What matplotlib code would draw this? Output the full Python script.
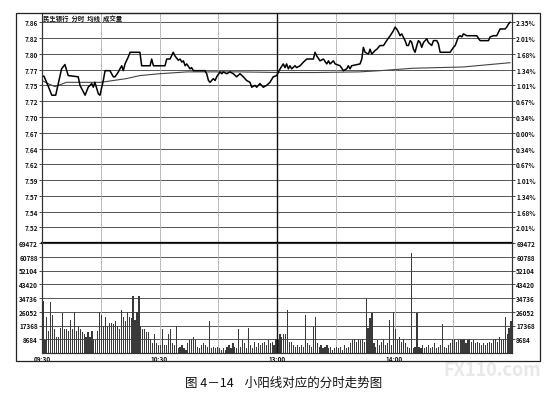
import matplotlib
matplotlib.use("Agg")
import matplotlib.pyplot as plt
from matplotlib.patches import Rectangle
import numpy as np

plt.rcParams['font.family'] = ['Noto Sans CJK SC', 'DejaVu Sans']

# ---- data ----
prev_close = 7.675
price_labels = ['7.86', '7.82', '7.80', '7.77', '7.75', '7.72', '7.70',
                '7.67', '7.64', '7.62', '7.59', '7.57', '7.54', '7.52']
pct_values = [2.35, 2.01, 1.68, 1.34, 1.01, 0.67, 0.34,
              0.0, -0.34, -0.67, -1.01, -1.34, -1.68, -2.01]
pct_labels = ['2.35%', '2.01%', '1.68%', '1.34%', '1.01%', '0.67%', '0.34%',
              '0.00%', '0.34%', '0.67%', '1.01%', '1.34%', '1.68%', '2.01%']
vol_ticks = [8684, 17368, 26052, 34736, 43420, 52104, 60788, 69472]
time_ticks = [0, 60, 120, 180]
time_labels = ['09:30', '10:30', '13:00', '14:00']

# minute line (minutes after open, price)
price_min = [0, 1, 3, 5, 7, 10, 11.7, 13.4, 18.5, 19.4, 22, 23.6, 25.4, 26.2, 27,
             28.8, 29.6, 31.3, 32.2, 34.7, 36.4, 37.3, 39, 39.8, 40.7, 41.5, 42.4,
             44, 45, 50, 50.9, 55.2, 56, 56.9, 62.8, 63.7, 65.4, 67, 67.9, 69.6,
             70.5, 71.4, 72.2, 73.1, 73.9, 75.6, 76.4, 77.3, 83.2, 84.1, 85, 85.8,
             87.5, 88.4, 89.2, 90.9, 91.8, 92.6, 94.3, 96, 97.7, 99.4, 101.1, 102.8,
             104.5, 106.2, 107.1, 108.8, 109.6, 111.3, 113, 114.7, 116.4, 118.1,
             119.8, 121.6, 123.2, 124.1, 124.9, 125.8, 126.6, 127.5, 129.2, 130,
             131.8, 133.5, 135.2, 138.6, 139.4, 140.3, 142, 143.7, 145.4, 146.3,
             147.1, 148.8, 149.7, 152.2, 153.9, 155.6, 156.4, 157.3, 158.1, 162.4,
             163.3, 164.1, 165, 166.7, 167.5, 168.4, 170.1, 171, 171.8, 172.6,
             174.4, 176, 177.8, 179.4, 180.3, 181.1, 182, 182.8, 183.7, 185.4,
             186.3, 187.1, 188, 188.8, 189.7, 190.5, 191.4, 192.2, 193.1, 193.9,
             194.8, 196.5, 197.3, 199, 199.9, 201.6, 202.4, 203.3, 208.4, 210.1,
             211, 212.6, 213.5, 214.4, 215.2, 216.9, 222, 223.7, 228, 228.8, 230.5,
             232.2, 233.1, 233.9, 236.5, 237.3, 238.2, 239]
price_val = [7.767, 7.767, 7.752, 7.736, 7.736, 7.779, 7.786, 7.768, 7.766, 7.752,
             7.736, 7.749, 7.755, 7.749, 7.757, 7.738, 7.736, 7.760, 7.776, 7.776,
             7.766, 7.766, 7.774, 7.779, 7.784, 7.776, 7.787, 7.798, 7.806, 7.806,
             7.784, 7.784, 7.795, 7.784, 7.784, 7.795, 7.795, 7.806, 7.800, 7.793,
             7.795, 7.790, 7.792, 7.784, 7.787, 7.779, 7.781, 7.776, 7.776, 7.771,
             7.760, 7.757, 7.763, 7.760, 7.766, 7.774, 7.771, 7.774, 7.771, 7.774,
             7.771, 7.766, 7.771, 7.766, 7.760, 7.757, 7.749, 7.752, 7.749, 7.755,
             7.749, 7.752, 7.757, 7.766, 7.768, 7.779, 7.787, 7.781, 7.787, 7.779,
             7.784, 7.779, 7.784, 7.781, 7.784, 7.790, 7.795, 7.795, 7.806, 7.800,
             7.792, 7.795, 7.787, 7.792, 7.787, 7.792, 7.787, 7.784, 7.776, 7.779,
             7.784, 7.779, 7.784, 7.787, 7.795, 7.814, 7.806, 7.803, 7.811, 7.803,
             7.809, 7.811, 7.814, 7.817, 7.817, 7.825, 7.833, 7.841, 7.847, 7.844,
             7.839, 7.833, 7.836, 7.825, 7.817, 7.817, 7.825, 7.822, 7.811, 7.806,
             7.817, 7.825, 7.822, 7.814, 7.822, 7.828, 7.822, 7.817, 7.825, 7.825,
             7.820, 7.806, 7.806, 7.814, 7.817, 7.831, 7.833, 7.831, 7.836, 7.833,
             7.833, 7.825, 7.825, 7.831, 7.833, 7.833, 7.839, 7.844, 7.844, 7.847,
             7.852, 7.855]

# average price line
avg_min = [0, 3, 6.6, 12.6, 20, 30, 43, 50, 60, 74, 100, 121.6, 140, 162, 172.6,
           189.7, 215, 239]
avg_val = [7.760, 7.755, 7.750, 7.757, 7.757, 7.757, 7.763, 7.768, 7.771, 7.774,
           7.774, 7.773, 7.773, 7.774, 7.776, 7.780, 7.782, 7.789]

# volume per minute, in thousands of shares
volume_k = [33, 8, 23, 14, 32, 24, 15, 10, 10, 16,
            25, 15, 15, 14, 21, 15, 26, 14, 17, 15,
            13, 12, 10, 13, 10, 14, 9, 8, 14, 26,
            24, 17, 23, 17, 19, 19, 18, 20, 17, 15,
            27, 23, 20, 26, 23, 22, 36, 21, 26, 36,
            17, 15, 15, 13, 13, 9, 6, 12, 6, 5,
            5, 15, 5, 5, 12, 15, 6, 5, 17, 3,
            4, 5, 3, 2, 6, 8, 9, 10, 8, 4,
            3, 5, 6, 5, 4, 20, 3, 4, 3, 4,
            3, 2, 3, 2, 4, 5, 3, 6, 4, 3,
            15, 4, 8, 6, 3, 16, 5, 3, 7, 4,
            6, 5, 6, 7, 5, 8, 6, 7, 5, 9,
            8, 12, 10, 12, 12, 27, 7, 7, 5, 4,
            5, 4, 5, 4, 24, 6, 5, 4, 17, 23,
            6, 4, 5, 3, 4, 5, 3, 4, 2, 3,
            4, 3, 4, 2, 5, 3, 4, 6, 8, 9,
            7, 9, 8, 9, 7, 34, 16, 22, 25, 6,
            4, 8, 5, 7, 9, 5, 6, 21, 5, 26,
            15, 8, 10, 7, 9, 6, 4, 3, 63, 3,
            4, 25, 4, 3, 5, 3, 4, 5, 3, 4,
            6, 3, 4, 5, 18, 4, 3, 5, 6, 8,
            9, 7, 8, 9, 8, 9, 6, 8, 9, 7,
            8, 6, 7, 6, 5, 6, 5, 6, 7, 6,
            8, 9, 7, 10, 8, 9, 23, 12, 16, 20]

# ---- figure ----
fig = plt.figure(figsize=(5.6, 4.02), dpi=100)
W, H = 560.0, 402.0
x0, x1 = 42, 512

# faint watermark, below the chart frame
fig.text(492 / W, 1 - 371 / H, 'FX110.com', fontsize=13, fontweight='bold',
         color='#e8e8e8', ha='center', va='center', zorder=0)

ax = fig.add_axes([x0 / W, 1 - 244 / H, (x1 - x0) / W, 230 / H])
axv = fig.add_axes([x0 / W, 1 - 354 / H, (x1 - x0) / W, 110 / H])

price_ticks = [prev_close * (1 + p / 100) for p in pct_values]
step = (price_ticks[0] - price_ticks[-1]) / 13
ylo = price_ticks[-1] - step
yhi = price_ticks[0] + 0.57 * step

tick_kw = dict(fontsize=4.6, fontweight='bold', color='#111')

# price panel
for t in price_ticks:
    ax.axhline(t, color='#555', lw=0.7, zorder=1)
for m in range(30, 240, 30):
    if m != 120:
        ax.axvline(m, color='#b0b0b0', lw=0.6, zorder=1)
ax.axvline(120, color='#111', lw=1.0, zorder=2)
ax.plot(avg_min, avg_val, color='#444', lw=0.8, zorder=3)
ax.plot(price_min, price_val, color='#000', lw=1.1, zorder=4)
ax.set_xlim(0, 240)
ax.set_ylim(ylo, yhi)
ax.set_yticks(price_ticks)
ax.set_yticklabels(price_labels, **tick_kw)
ax.set_xticks([])
ax.tick_params(axis='y', length=2, pad=1, width=0.5)
ax2 = ax.twinx()
ax2.set_ylim(ylo, yhi)
ax2.set_yticks(price_ticks)
ax2.set_yticklabels(pct_labels, **tick_kw)
ax2.tick_params(axis='y', length=2, pad=1, width=0.5)
for a in (ax, ax2):
    for s in a.spines.values():
        s.set_color('#333')
        s.set_linewidth(0.8)
ax.spines['bottom'].set_linewidth(1.6)
ax.spines['bottom'].set_color('#000')
ax.text(0.003, 0.995, '民生银行  分时  均线  成交量', transform=ax.transAxes,
        ha='left', va='top', fontsize=4.6, fontweight='bold', color='#111')

# volume panel
minutes = np.arange(len(volume_k))
vol = np.array(volume_k) * 1000
for t in vol_ticks[:-1]:
    axv.axhline(t, color='#555', lw=0.7, zorder=1)
for m in range(30, 240, 30):
    if m != 120:
        axv.axvline(m, color='#b0b0b0', lw=0.6, zorder=1)
axv.axvline(120, color='#111', lw=1.0, zorder=3)
axv.bar(minutes + 0.5, vol, width=0.6, color='#3a3a3a', zorder=2)
axv.set_xlim(0, 240)
axv.set_ylim(0, vol_ticks[-1])
axv.set_yticks(vol_ticks)
axv.set_yticklabels([str(v) for v in vol_ticks], **tick_kw)
axv.set_xticks(time_ticks)
axv.set_xticklabels(time_labels, **tick_kw)
axv.tick_params(axis='x', length=0, pad=1.5)
axv.tick_params(axis='y', length=2, pad=1, width=0.5)
axv2 = axv.twinx()
axv2.set_ylim(0, vol_ticks[-1])
axv2.set_yticks(vol_ticks)
axv2.set_yticklabels([str(v) for v in vol_ticks], **tick_kw)
axv2.tick_params(axis='y', length=2, pad=1, width=0.5)
for a in (axv, axv2):
    for s in a.spines.values():
        s.set_color('#333')
        s.set_linewidth(0.8)
axv.spines['top'].set_visible(False)
axv2.spines['top'].set_visible(False)

# outer frame and caption
fig.patches.append(Rectangle((16 / W, 1 - 362 / H), 524 / W, 348 / H,
                             transform=fig.transFigure, fill=False,
                             edgecolor='#222', lw=0.9))
fig.text(284 / W, 1 - 383 / H, '图 4－14    小阳线对应的分时走势图', fontsize=9,
         ha='center', va='center', color='#111')

fig.savefig('out.png', dpi=100)
